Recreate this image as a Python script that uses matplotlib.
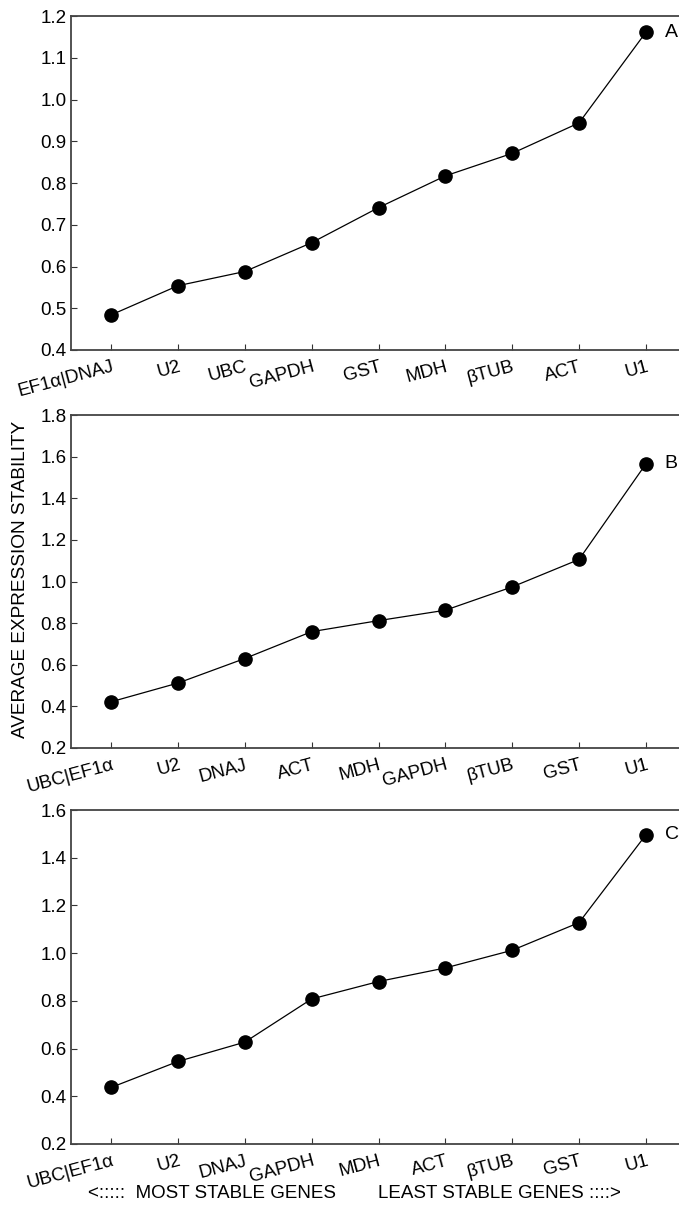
import matplotlib
matplotlib.use('Agg')
import matplotlib.pyplot as plt
import matplotlib.transforms as mtransforms
import numpy as np

plt.rcParams['font.family'] = ['Liberation Sans', 'DejaVu Sans']

# panel A
genes_a = ['EF1α|DNAJ', 'U2', 'UBC', 'GAPDH', 'GST', 'MDH', 'βTUB', 'ACT', 'U1']
vals_a = [0.484, 0.554, 0.588, 0.657, 0.741, 0.817, 0.871, 0.944, 1.161]
# panel B
genes_b = ['UBC|EF1α', 'U2', 'DNAJ', 'ACT', 'MDH', 'GAPDH', 'βTUB', 'GST', 'U1']
vals_b = [0.422, 0.512, 0.630, 0.759, 0.812, 0.862, 0.974, 1.106, 1.565]
# panel C
genes_c = ['UBC|EF1α', 'U2', 'DNAJ', 'GAPDH', 'MDH', 'ACT', 'βTUB', 'GST', 'U1']
vals_c = [0.437, 0.546, 0.627, 0.808, 0.881, 0.938, 1.012, 1.128, 1.496]

panels = [
    ('A', genes_a, vals_a, (0.4, 1.2), np.arange(0.4, 1.21, 0.1)),
    ('B', genes_b, vals_b, (0.2, 1.8), np.arange(0.2, 1.81, 0.2)),
    ('C', genes_c, vals_c, (0.2, 1.6), np.arange(0.2, 1.61, 0.2)),
]

W, H = 679, 1209
fig = plt.figure(figsize=(W / 100, H / 100), dpi=100)
fig.patch.set_facecolor('white')

# 各パネルの上端・下端 (px)
boxes = [(16, 350), (415, 748), (810, 1144)]
LEFT_PX, RIGHT_PX = 71, 686
FS = 13.5

offset = mtransforms.ScaledTranslation(5 / 72, 0, fig.dpi_scale_trans)

for (letter, genes, vals, ylim, yticks), (top, bot) in zip(panels, boxes):
    ax = fig.add_axes([LEFT_PX / W, 1 - bot / H, (RIGHT_PX - LEFT_PX) / W, (bot - top) / H])
    x = np.arange(1, len(genes) + 1)
    ax.plot(x, vals, color='black', lw=0.9, marker='o', ms=9.5,
            markerfacecolor='black', markeredgecolor='black', clip_on=False)
    ax.set_xlim(0.4, 9.6)
    ax.set_ylim(*ylim)
    ax.set_yticks(yticks)
    ax.set_yticklabels([f'{v:.1f}' for v in yticks], fontsize=FS)
    ax.set_xticks(x)
    ax.set_xticklabels(genes, fontsize=FS, rotation=15, ha='right',
                       va='top', rotation_mode='anchor')
    for lab in ax.get_xticklabels():
        lab.set_transform(lab.get_transform() + offset)
    ax.tick_params(axis='x', direction='in', length=4, width=0.8, pad=6, colors='#333333',
                   labelcolor='black')
    ax.tick_params(axis='y', direction='in', length=4, width=0.8, pad=3, colors='#333333',
                   labelcolor='black')
    for sp in ax.spines.values():
        sp.set_color('#444444')
        sp.set_linewidth(1.3)
    ax.text(9.28, vals[-1], letter, ha='left', va='center', fontsize=14)

fig.text(21 / W, 1 - 579 / H, 'AVERAGE EXPRESSION STABILITY', rotation=90,
         ha='center', va='center', fontsize=13.7)
fig.text(88 / W, 1 - 1193 / H, '<:::::  MOST STABLE GENES', ha='left', va='center', fontsize=FS)
fig.text(378 / W, 1 - 1193 / H, 'LEAST STABLE GENES ::::>', ha='left', va='center', fontsize=FS)

plt.savefig('out.png', dpi=100, facecolor='white')
